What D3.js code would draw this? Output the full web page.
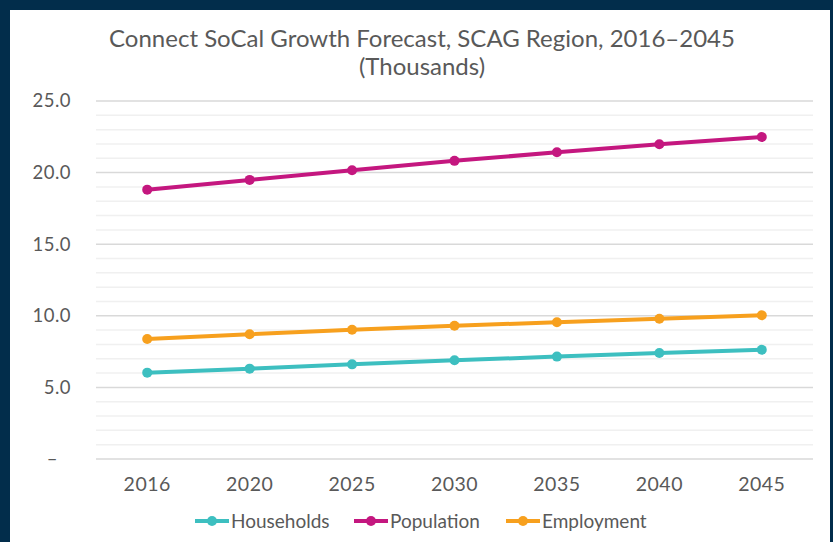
<!DOCTYPE html>
<html>
<head>
<meta charset="utf-8">
<script src="https://cdn.jsdelivr.net/npm/d3@7"></script>
<style>
  html, body { margin: 0; padding: 0; background: #022d4b; }
  svg { display: block; }
  text { font-family: Lato, "Open Sans", sans-serif; fill: #595959; }
</style>
</head>
<body>
<svg id="chart" width="833" height="542"></svg>
<script>
// dados (milhares)
var anos = ["2016", "2020", "2025", "2030", "2035", "2040", "2045"];
var households = [6.03, 6.31, 6.61, 6.89, 7.15, 7.40, 7.63];
var population = [18.81, 19.49, 20.17, 20.82, 21.42, 21.98, 22.49];
var employment = [8.38, 8.71, 9.03, 9.31, 9.55, 9.80, 10.04];
var yTicks = [0, 5, 10, 15, 20, 25];

var series = [
  {nome: "Households", valores: households, cor: "#3dbfc0"},
  {nome: "Population", valores: population, cor: "#c4177f"},
  {nome: "Employment", valores: employment, cor: "#f7a01e"}
];

var svg = d3.select("#chart");

// painel branco
svg.append("rect")
  .attr("x", 10).attr("y", 10)
  .attr("width", 820).attr("height", 540)
  .attr("fill", "#ffffff");

var margin = {top: 101, left: 96, right: 20, bottom: 83},
    width = 813 - margin.left,
    height = 459 - margin.top;

var g = svg.append("g").attr("transform", "translate(" + margin.left + "," + margin.top + ")");

var x = d3.scaleBand().domain(anos).range([0, width]);
var y = d3.scaleLinear().domain([0, 25]).range([height, 0]);

// linhas de grade menores e maiores
g.append("g")
  .selectAll("line")
  .data(d3.range(0, 26))
  .enter().append("line")
    .attr("x1", 0).attr("x2", width)
    .attr("y1", function(d) { return y(d); })
    .attr("y2", function(d) { return y(d); })
    .attr("stroke", function(d) { return d % 5 === 0 ? "#d9d9d9" : "#f0f0f0"; })
    .attr("stroke-width", 1.5);

// eixo y
var eixoY = g.append("g")
  .call(d3.axisLeft(y).tickValues(yTicks).tickSize(0).tickPadding(25)
    .tickFormat(function(d) { return d === 0 ? "–" : d3.format(".1f")(d); }));
eixoY.select(".domain").remove();
eixoY.selectAll("text")
  .style("font-size", "18.5px")
  .attr("fill", "#595959")
  .attr("dx", function(d) { return d === 0 ? -13 : 0; })
  .style("letter-spacing", "0.5px");

// eixo x
var eixoX = g.append("g")
  .attr("transform", "translate(0," + height + ")")
  .call(d3.axisBottom(x).tickSize(0).tickPadding(18));
eixoX.select(".domain").remove();
eixoX.selectAll("text")
  .style("font-size", "19.5px")
  .attr("fill", "#595959")
  .style("letter-spacing", "0.5px");

var linha = d3.line()
  .x(function(d, i) { return x(anos[i]) + x.bandwidth() / 2; })
  .y(function(d) { return y(d); });

series.forEach(function(s) {
  g.append("path")
    .datum(s.valores)
    .attr("fill", "none")
    .attr("stroke", s.cor)
    .attr("stroke-width", 4)
    .attr("d", linha);

  g.selectAll(null)
    .data(s.valores)
    .enter().append("circle")
      .attr("cx", function(d, i) { return x(anos[i]) + x.bandwidth() / 2; })
      .attr("cy", function(d) { return y(d); })
      .attr("r", 5)
      .attr("fill", s.cor);
});

// titulo (duas linhas)
svg.append("text")
  .attr("x", 422)
  .attr("y", 47)
  .attr("text-anchor", "middle")
  .style("font-size", "24px")
  .text("Connect SoCal Growth Forecast, SCAG Region, 2016–2045");
svg.append("text")
  .attr("x", 422)
  .attr("y", 75)
  .attr("text-anchor", "middle")
  .style("font-size", "24px")
  .text("(Thousands)");

// legenda
var posLegenda = [195, 354, 506];
var legenda = svg.append("g")
  .selectAll("g")
  .data(series)
  .enter().append("g")
    .attr("transform", function(d, i) { return "translate(" + posLegenda[i] + ",521)"; });

legenda.append("line")
  .attr("x1", 0).attr("x2", 34)
  .attr("stroke", function(d) { return d.cor; })
  .attr("stroke-width", 4);
legenda.append("circle")
  .attr("cx", 17).attr("r", 5)
  .attr("fill", function(d) { return d.cor; });
legenda.append("text")
  .attr("x", 36)
  .attr("dy", "0.35em")
  .style("font-size", "19px")
  .text(function(d) { return d.nome; });
</script>
</body>
</html>
